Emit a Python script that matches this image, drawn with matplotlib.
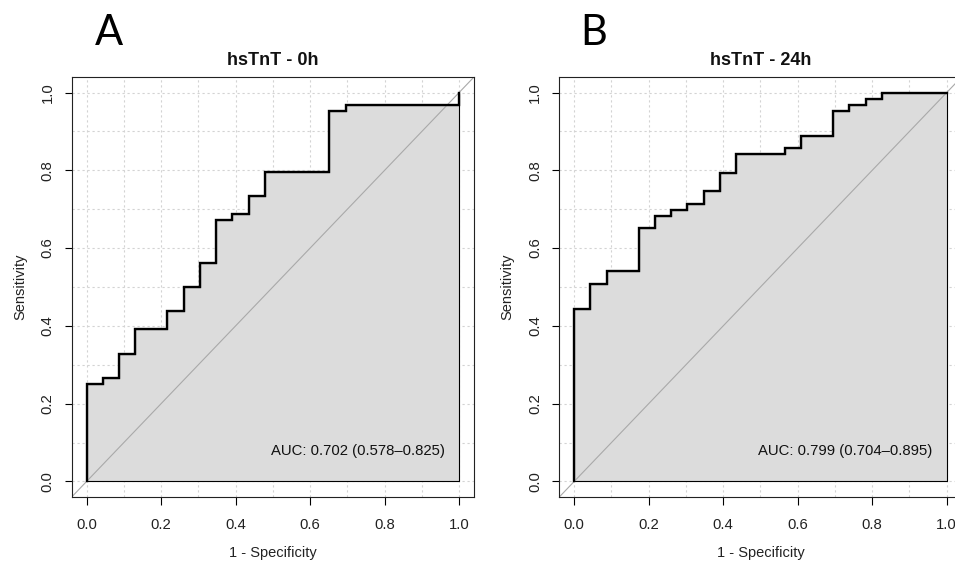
import matplotlib
matplotlib.use("Agg")
import matplotlib.pyplot as plt

# ---- data ----
titles = ["hsTnT - 0h", "hsTnT - 24h"]
panel_labels = ["A", "B"]
auc_texts = ["AUC: 0.702 (0.578\u20130.825)", "AUC: 0.799 (0.704\u20130.895)"]

fpr_0h = [0, 0, 0.043, 0.087, 0.130, 0.217, 0.261, 0.304, 0.348, 0.391, 0.435, 0.478, 0.652, 0.696, 1.0]
tpr_0h = [0, 0.25, 0.266, 0.328, 0.391, 0.438, 0.500, 0.563, 0.672, 0.688, 0.734, 0.797, 0.953, 0.969, 1.0]

fpr_24h = [0, 0, 0.043, 0.087, 0.174, 0.217, 0.261, 0.304, 0.348, 0.391, 0.435, 0.565, 0.609, 0.696, 0.739, 0.783, 0.826, 1.0]
tpr_24h = [0, 0.444, 0.508, 0.540, 0.651, 0.683, 0.698, 0.714, 0.746, 0.794, 0.841, 0.857, 0.889, 0.952, 0.968, 0.984, 1.0, 1.0]

tick_vals = [0.0, 0.2, 0.4, 0.6, 0.8, 1.0]
tick_labels = ["0.0", "0.2", "0.4", "0.6", "0.8", "1.0"]
grid_vals = [i / 10 for i in range(11)]

# ---- figure ----
W, H = 955, 562
fig = plt.figure(figsize=(W / 100, H / 100), dpi=100)
plt.rcParams['font.family'] = ['Liberation Sans', 'DejaVu Sans']

def fx(px):
    return px / W

def fy(py):
    return 1 - py / H

ax_left_px = [71.7, 559.3]
ax_w_px = 402.3
ax_top_px, ax_bot_px = 77.0, 497.0

curves = [(fpr_0h, tpr_0h), (fpr_24h, tpr_24h)]
label_x_px = [95, 580]

for i in range(2):
    l = ax_left_px[i]
    ax = fig.add_axes([fx(l), fy(ax_bot_px), ax_w_px / W, (ax_bot_px - ax_top_px) / H])
    ax.set_xlim(-0.04, 1.04)
    ax.set_ylim(-0.04, 1.04)
    # grid
    for g in grid_vals:
        ax.axvline(g, color='#D3D3D3', lw=0.8, ls=(0, (2, 2.5)), zorder=0)
        ax.axhline(g, color='#D3D3D3', lw=0.8, ls=(0, (2, 2.5)), zorder=0)
    x, y = curves[i]
    ax.fill_between(x, y, 0, step='post', facecolor='#DCDCDC', edgecolor='black',
                    lw=0.8, zorder=1)
    ax.plot([-0.2, 1.2], [-0.2, 1.2], color='#A9A9A9', lw=0.8, zorder=2)
    ax.plot(x, y, drawstyle='steps-post', color='black', lw=1.7, zorder=3,
            solid_joinstyle='miter')
    ax.text(0.728, 0.078, auc_texts[i], ha='center', va='center', fontsize=10.7,
            color='#111111', zorder=4)

    ax.set_xticks(tick_vals)
    ax.set_xticklabels(tick_labels)
    ax.set_yticks(tick_vals)
    ax.set_yticklabels(tick_labels, rotation=90, va='center')
    ax.tick_params(axis='both', length=5.4, width=0.8, labelsize=10.7,
                   colors='black', labelcolor='#222222')
    ax.tick_params(axis='x', pad=10)
    ax.tick_params(axis='y', pad=6.8)
    for s in ax.spines.values():
        s.set_linewidth(0.8)
        s.set_color('#222222')

    cx = l + ax_w_px / 2
    fig.text(fx(cx), fy(65), titles[i], ha='center', va='baseline',
             fontsize=13, fontweight='bold', color='#111111')
    fig.text(fx(cx), fy(553), "1 - Specificity", ha='center', va='center',
             fontsize=10.5, color='#222222')
    fig.text(fx(l - 51.7), fy(287), "Sensitivity", ha='center', va='center',
             rotation=90, fontsize=10.5, color='#222222')
    fig.text(fx(label_x_px[i]), fy(45), panel_labels[i], ha='left', va='baseline',
             fontsize=30, family=['Lato', 'DejaVu Sans'], color='black')

fig.savefig("out.png", dpi=100)
